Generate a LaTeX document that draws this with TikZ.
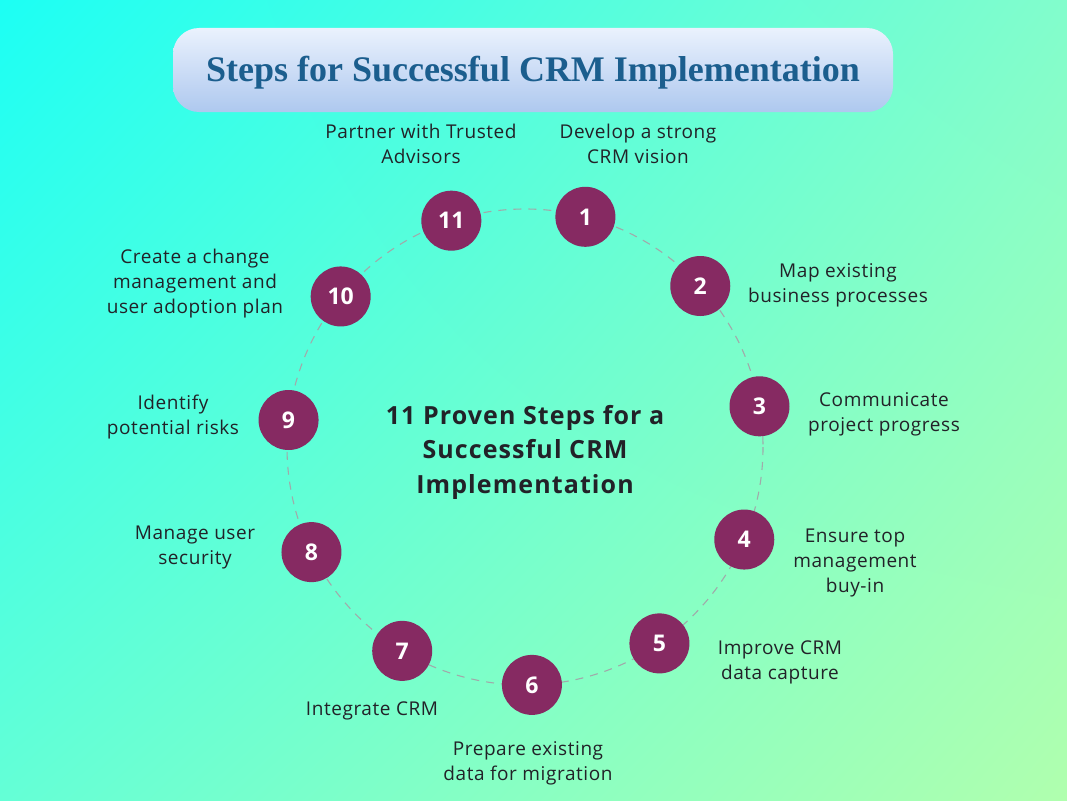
\documentclass[tikz,border=0pt]{standalone}
\usepackage{fontspec}
\setmainfont{Liberation Serif}
\newfontfamily\labelfont[LetterSpace=3]{Open Sans}
\newfontfamily\hubfont[LetterSpace=4.4]{Open Sans}
\newfontfamily\dotfont{Open Sans}
\usepackage{xcolor}
\usepackage{tikz}
\usetikzlibrary{calc, shadings}
\definecolor{bgcyan}{RGB}{28, 255, 244}
\definecolor{bgmint}{RGB}{100, 255, 214}
\definecolor{bgaqua}{RGB}{130, 253, 204}
\definecolor{bggreen}{RGB}{176, 255, 174}
\definecolor{titletop}{RGB}{234, 242, 253}
\definecolor{titlebottom}{RGB}{174, 200, 239}
\definecolor{titleblue}{RGB}{27, 94, 142}
\definecolor{plum}{RGB}{134, 42, 98}
\definecolor{ringgray}{RGB}{160, 170, 170}
\definecolor{inkdark}{RGB}{34, 34, 40}

\tikzset{
  stepdot/.style={circle, fill=plum, minimum size=60pt, inner sep=0pt,
    text=white, font=\dotfont\fontsize{23}{23}\selectfont\bfseries},
  steplabel/.style={align=center, text=inkdark,
    font=\labelfont\fontsize{19}{25}\selectfont}
}

\begin{document}
\begin{tikzpicture}[x=1pt, y=-1pt]
  \useasboundingbox (0,0) rectangle (1067,800);
  % background
  \shade[upper left=bgcyan, upper right=bgaqua, lower left=bgmint,
    lower right=bggreen] (0,0) rectangle (1067,800);

  % title banner
  \shade[top color=titletop, bottom color=titlebottom, rounded corners=26pt]
    (173,28) rectangle (893,112);
  \node (title) at (533,73) {
    \color{titleblue}\fontsize{36}{36}\selectfont\bfseries
    Steps for Successful CRM Implementation
  };

  % ring
  \coordinate (hub) at (525,447);
  \draw[ringgray, line width=1.1pt, dash pattern=on 8pt off 7pt]
    (hub) circle[radius=238];

  \foreach \n in {1,...,11} {
    \node[stepdot] (step\n) at ($(hub)+({75.3-(\n-1)*32.727}:238 and -238)$) {\n};
  }

  \node[align=center, text=inkdark,
    font=\hubfont\fontsize{25}{34.5}\selectfont\bfseries] (centre) at (525,452) {
    11 Proven Steps for a\\ Successful CRM\\ Implementation
  };

  % step texts
  \node[steplabel] (lbl1) at (638,144) {Develop a strong\\ CRM vision};
  \node[steplabel] (lbl2) at (838,285) {Map existing\\ business processes};
  \node[steplabel] (lbl3) at (884,414) {Communicate\\ project progress};
  \node[steplabel] (lbl4) at (855,563) {Ensure top\\ management\\ buy-in};
  \node[steplabel] (lbl5) at (780,662) {Improve CRM\\ data capture};
  \node[steplabel] (lbl6) at (528,763) {Prepare existing\\ data for migration};
  \node[steplabel] (lbl7) at (372,711) {Integrate CRM};
  \node[steplabel] (lbl8) at (195,547) {Manage user\\ security};
  \node[steplabel] (lbl9) at (173,417) {Identify\\ potential risks};
  \node[steplabel] (lbl10) at (195,284) {Create a change\\ management and\\ user adoption plan};
  \node[steplabel] (lbl11) at (421,144) {Partner with Trusted\\ Advisors};
\end{tikzpicture}
\end{document}
